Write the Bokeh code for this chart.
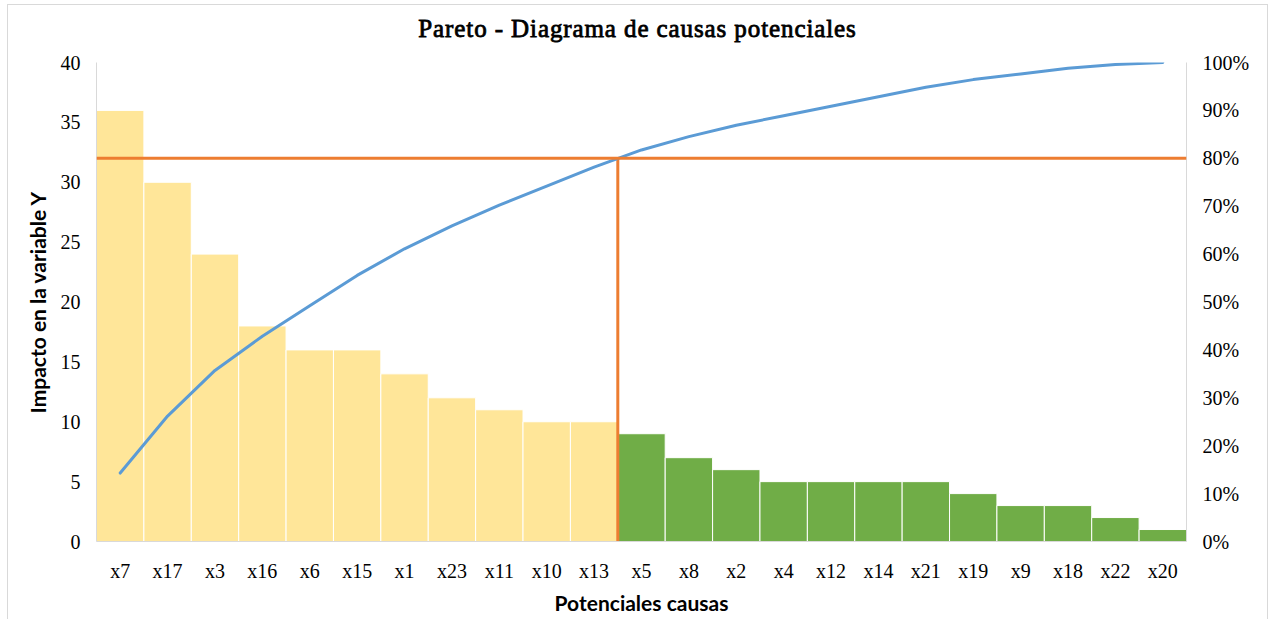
from bokeh.plotting import figure
from bokeh.layouts import column
from bokeh.models import (ColumnDataSource, FactorRange, Range1d, LinearAxis,
                          NumeralTickFormatter, FixedTicker, Span, Segment, Div)
from bokeh.embed import file_html
from bokeh.resources import INLINE
import numpy as np

# Potential causes, sorted by impact
causes = ["x7", "x17", "x3", "x16", "x6", "x15", "x1", "x23", "x11", "x10", "x13",
          "x5", "x8", "x2", "x4", "x12", "x14", "x21", "x19", "x9", "x18", "x22", "x20"]
impact = [36, 30, 24, 18, 16, 16, 14, 12, 11, 10, 10,
          9, 7, 6, 5, 5, 5, 5, 4, 3, 3, 2, 1]
threshold = 0.80
left_ticks = [0, 5, 10, 15, 20, 25, 30, 35, 40]
right_ticks = [0.0, 0.1, 0.2, 0.3, 0.4, 0.5, 0.6, 0.7, 0.8, 0.9, 1.0]
chart_title = "Pareto - Diagrama de causas potenciales"

YELLOW = "#ffe699"
GREEN = "#70ad47"
BLUE = "#5b9bd5"
ORANGE = "#ed7d31"
AXIS_GREY = "#d9d9d9"

cum = np.cumsum(impact) / float(sum(impact))
vital = cum <= threshold
n_vital = int(vital.sum())
colors = [YELLOW if v else GREEN for v in vital]

src = ColumnDataSource(dict(cause=causes, impact=impact, cum=cum, color=colors))

W = 1259
TITLE_H = 42

# Serif heading; the stroke thickens the regular face into a bold look
header = Div(text=chart_title, width=W, height=TITLE_H, margin=0,
             styles={"text-align": "center",
                     "font-family": "'Liberation Serif', 'Times New Roman', serif",
                     "font-size": "25px", "font-weight": "normal", "color": "#000000",
                     "-webkit-text-stroke": "0.8px #000000",
                     "letter-spacing": "0.9px",
                     "line-height": "48px", "width": f"{W}px"})

p = figure(width=W, height=615 - TITLE_H, x_range=FactorRange(*causes),
           y_range=Range1d(0, 40), output_backend="svg", toolbar_location=None,
           min_border_left=88, min_border_right=81, min_border_top=15,
           min_border_bottom=79, outline_line_color=None, title=None, margin=0)

p.extra_y_ranges = {"pct": Range1d(0, 1)}

p.vbar(x="cause", top="impact", width=1.0, fill_color="color",
       line_color="white", line_width=1, source=src)

# 80% reference lines
p.add_layout(Span(location=threshold, dimension="width", y_range_name="pct",
                  line_color=ORANGE, line_width=3))
cut_src = ColumnDataSource(dict(x0=[n_vital], y0=[threshold], x1=[n_vital], y1=[-0.01]))
p.add_glyph(cut_src, Segment(x0="x0", y0="y0", x1="x1", y1="y1",
                             line_color=ORANGE, line_width=3),
            y_range_name="pct")

# Cumulative percentage
p.line(x="cause", y="cum", source=src, y_range_name="pct",
       line_color=BLUE, line_width=3, line_cap="round", line_join="round")

right = LinearAxis(y_range_name="pct", ticker=FixedTicker(ticks=right_ticks),
                   formatter=NumeralTickFormatter(format="0%"))
p.add_layout(right, "right")

p.yaxis[0].ticker = FixedTicker(ticks=left_ticks)
p.xaxis.axis_label = "Potenciales causas"
p.yaxis[0].axis_label = "Impacto en la variable Y"

for ax in p.axis:
    ax.axis_line_color = AXIS_GREY
    ax.major_tick_line_color = None
    ax.minor_tick_line_color = None
    ax.major_label_text_font = "Liberation Serif"
    ax.major_label_text_font_size = "20px"
    ax.major_label_text_color = "#000000"
    ax.axis_label_text_font = "Lato"
    ax.axis_label_text_font_size = "21px"
    ax.axis_label_text_font_style = "bold"
    ax.axis_label_text_color = "#000000"

p.xaxis.major_label_standoff = 12
p.xaxis.axis_label_standoff = 5
p.yaxis[0].major_label_standoff = 10
p.yaxis[0].axis_label_standoff = 8
right.major_label_standoff = 10

p.xgrid.grid_line_color = None
p.ygrid.grid_line_color = None

page = column(header, p, spacing=0, margin=0,
              styles={"margin-left": "7px", "margin-top": "4px",
                      "border": "1px solid #d9d9d9", "background-color": "#ffffff"})

open("out.html", "w").write(file_html(page, INLINE))
